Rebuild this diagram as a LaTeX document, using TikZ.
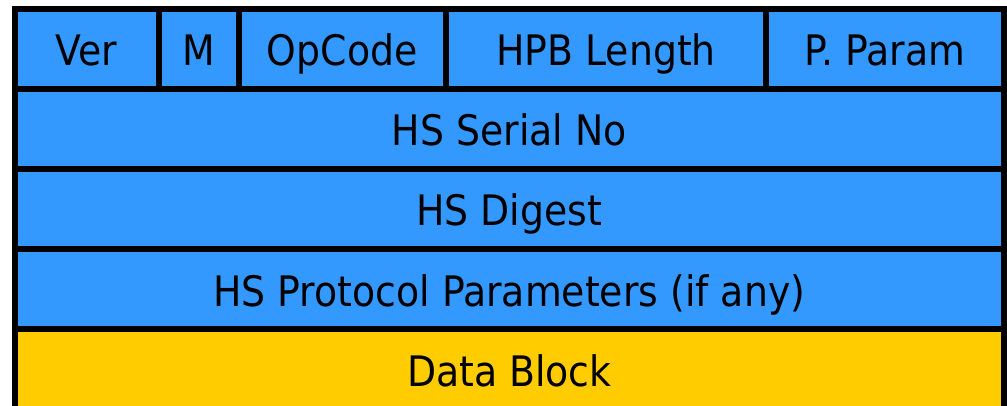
\documentclass[tikz,border=0pt]{standalone}
\usepackage{fontspec}
\setmainfont{DejaVu Sans}[FakeStretch=0.9]
\begin{document}
\begin{tikzpicture}[x=1pt,y=-1pt,
  cell/.style={draw=black, line width=6pt, inner sep=0pt, outer sep=0pt,
    anchor=north west, minimum height=80pt, text height=42pt, text depth=8pt,
    font=\fontsize{42}{48}\selectfont},
  hdr/.style={cell, fill=hsblue},
  data/.style={cell, fill=datayellow}]
\definecolor{hsblue}{RGB}{51,153,255}
\definecolor{datayellow}{RGB}{255,204,0}
\useasboundingbox (0,0) rectangle (1007,406);
% header word: five fields
\node[hdr, minimum width=144pt] (ver)    at (14.5,9) {Ver};
\node[hdr, minimum width=80pt]  (m)      at (158.5,9) {M};
\node[hdr, minimum width=207.5pt] (opc)  at (238.5,9) {OpCode};
\node[hdr, minimum width=320pt] (hpb)    at (446,9) {HPB Length};
\node[hdr, minimum width=238pt] (pparam) at (766,9) {P. Param};
% full-width rows
\node[hdr, minimum width=989.5pt] (serial) at (14.5,89) {HS Serial No};
\node[hdr, minimum width=989.5pt] (digest) at (14.5,169) {HS Digest};
\node[hdr, minimum width=989.5pt] (proto)  at (14.5,249) {HS Protocol Parameters (if any)};
\node[data, minimum width=989.5pt] (block) at (14.5,329) {Data Block};
\end{tikzpicture}
\end{document}
